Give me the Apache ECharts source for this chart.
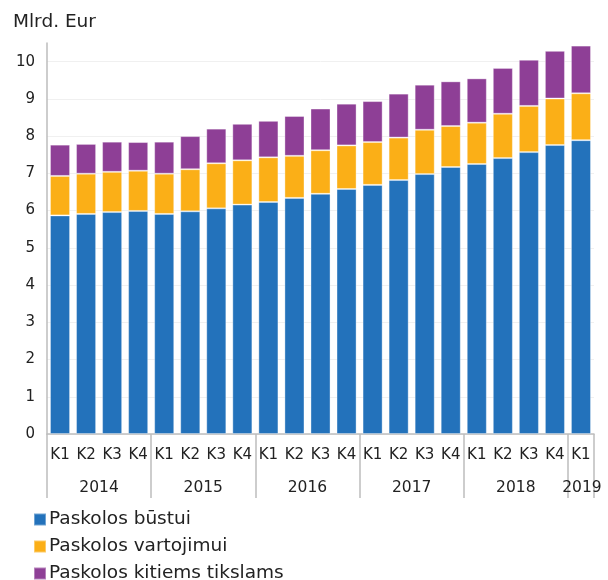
<!DOCTYPE html>
<html>
<head>
<meta charset="utf-8">
<script src="https://cdn.jsdelivr.net/npm/echarts@6/dist/echarts.min.js"></script>
<style>
  html, body { margin: 0; padding: 0; background: #fff; }
  #chart { width: 608px; height: 580px; }
</style>
</head>
<body>
<div id="chart"></div>
<script>
// ketvirčiai ir metai
var quarters = ['K1','K2','K3','K4','K1','K2','K3','K4','K1','K2','K3','K4',
                'K1','K2','K3','K4','K1','K2','K3','K4','K1'];
var years = ['2014','2014','2014','2014','2015','2015','2015','2015','2016','2016','2016','2016',
             '2017','2017','2017','2017','2018','2018','2018','2018','2019'];

// mlrd. Eur
var bustui = [5.87, 5.91, 5.96, 5.99, 5.91, 5.98, 6.06, 6.16, 6.23, 6.34, 6.45,
              6.58, 6.69, 6.82, 6.98, 7.17, 7.25, 7.41, 7.57, 7.76, 7.89];
var vartojimui = [1.06, 1.08, 1.08, 1.08, 1.08, 1.13, 1.21, 1.19, 1.20, 1.13, 1.17,
                  1.17, 1.15, 1.14, 1.19, 1.10, 1.11, 1.19, 1.24, 1.25, 1.26];
var kitiems = [0.84, 0.80, 0.81, 0.77, 0.86, 0.89, 0.93, 0.98, 0.98, 1.07, 1.12,
               1.12, 1.10, 1.18, 1.21, 1.20, 1.19, 1.23, 1.24, 1.28, 1.28];

var seriesNames = ['Paskolos būstui', 'Paskolos vartojimui', 'Paskolos kitiems tikslams'];
var colors = ['#2372bb', '#fbaf17', '#8e3f96'];

var font = 'DejaVu Sans, Verdana, sans-serif';
var gray = '#bdbdbd';

// metų etiketė rodoma grupės viduryje
function yearLabel(value, index) {
    var count = years.filter(function (y) { return y === years[index]; }).length;
    var first = years.indexOf(years[index]);
    if (count === 1 && index === first) return '{c|' + years[index] + '}';
    if (index === first + 1) return '{s|' + years[index] + '}';
    return '';
}

function makeSeries(name, data, color) {
    return {
        name: name,
        type: 'bar',
        stack: 'total',
        data: data,
        barCategoryGap: '23%',
        itemStyle: {
            color: color,
            borderColor: 'rgba(255,255,255,0.35)',
            borderWidth: 1
        }
    };
}

var chart = echarts.init(document.getElementById('chart'));
var option = {
    animation: false,
    textStyle: { fontFamily: font },
    title: {
        text: 'Mlrd. Eur',
        left: 8,
        top: 8,
        textStyle: { fontFamily: font, fontSize: 18.5, fontWeight: 'normal', color: '#222' }
    },
    legend: {
        orient: 'vertical',
        left: 33,
        top: 510,
        height: 120,
        padding: 0,
        itemWidth: 12,
        itemHeight: 12,
        itemGap: 8,
        icon: 'rect',
        textStyle: { fontFamily: font, fontSize: 18.5, lineHeight: 19, color: '#222', padding: [0, 0, 0, -2] },
        data: seriesNames
    },
    grid: { left: 47, right: 14, top: 43, bottom: 146 },
    xAxis: [
        {
            type: 'category',
            data: quarters,
            axisLine: { lineStyle: { color: gray, width: 1.5 } },
            axisTick: {
                show: true,
                length: 64,
                interval: function (index) { return quarters[index] === 'K1'; },
                lineStyle: { color: gray, width: 1.5 }
            },
            axisLabel: {
                interval: 0,
                margin: 14,
                fontFamily: font,
                fontSize: 15,
                color: '#222'
            }
        },
        {
            type: 'category',
            position: 'bottom',
            data: years,
            axisLine: { show: false },
            axisTick: { show: false },
            axisLabel: {
                interval: 0,
                margin: 46,
                formatter: yearLabel,
                rich: {
                    s: { fontFamily: font, fontSize: 15.5, color: '#222', padding: [0, 0, 0, 26] },
                    c: { fontFamily: font, fontSize: 15.5, color: '#222', padding: [0, 0, 0, 2] }
                }
            }
        }
    ],
    yAxis: {
        type: 'value',
        min: 0,
        max: 10.5,
        interval: 1,
        axisLine: { show: true, lineStyle: { color: gray, width: 1.5 } },
        axisTick: { show: false },
        splitLine: { showMaxLine: false, lineStyle: { color: '#f0f0f0' } },
        axisLabel: {
            margin: 12,
            fontFamily: font,
            fontSize: 15,
            color: '#222',
            showMaxLabel: false,
            formatter: function (v) { return v % 1 === 0 ? String(v) : ''; }
        }
    },
    series: [
        makeSeries(seriesNames[0], bustui, colors[0]),
        makeSeries(seriesNames[1], vartojimui, colors[1]),
        makeSeries(seriesNames[2], kitiems, colors[2])
    ]
};
chart.setOption(option);
</script>
</body>
</html>
